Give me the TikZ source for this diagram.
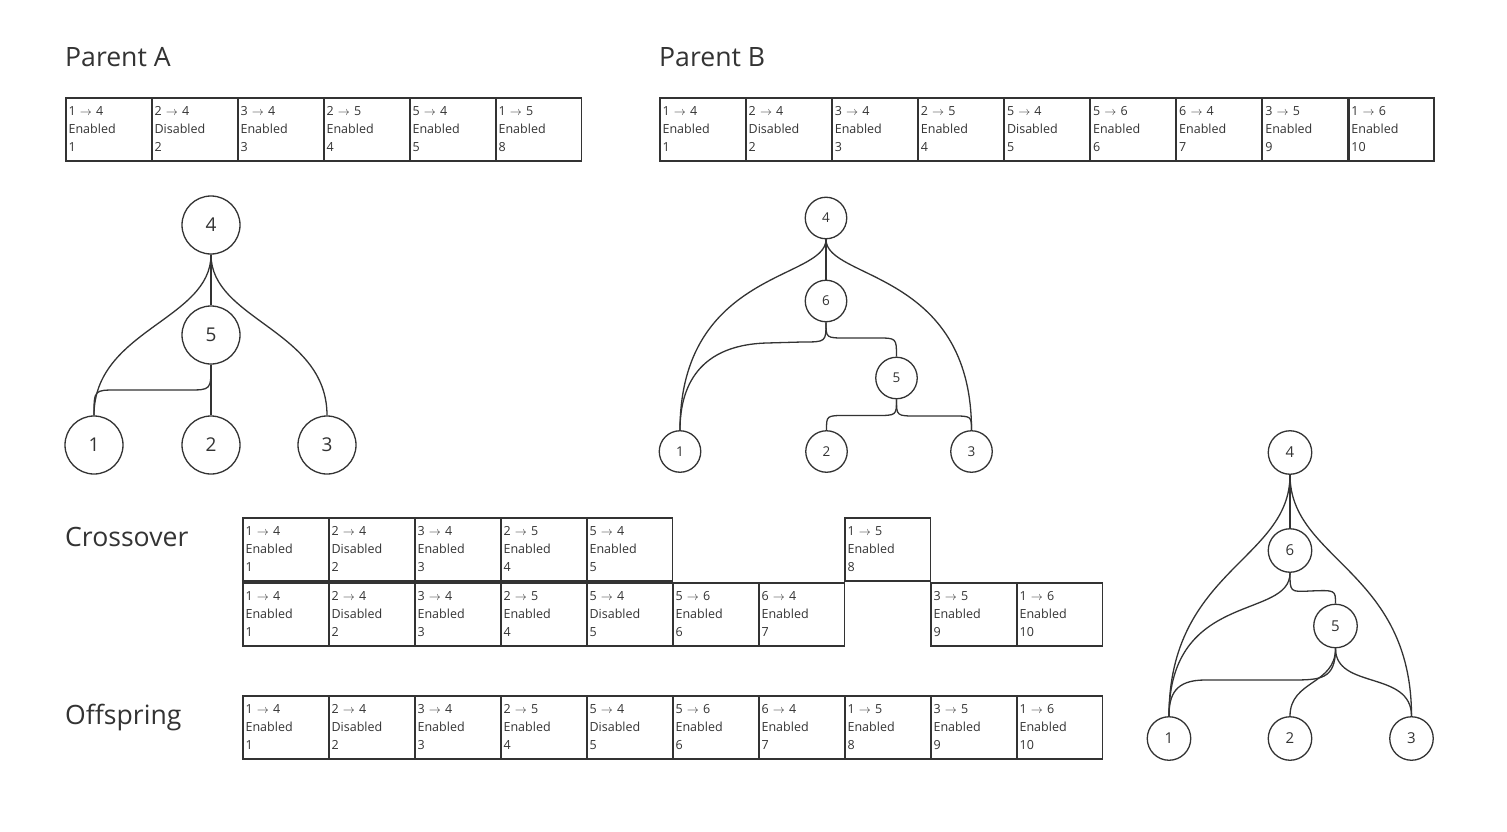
\documentclass[tikz,border=0pt]{standalone}
\usepackage{fontspec}
\setmainfont{Open Sans}
\definecolor{ink}{HTML}{333333}
\newcommand\garrow{\ensuremath{\rightarrow}}
\newcommand\gbox[7]{\node[gene] (#1) at (#2,#3) {#4 \garrow{} #5\\#6\\#7};}
\tikzset{
  gene/.style={draw=ink, line width=1.7pt, rectangle, anchor=north west,
    minimum width=85.5pt, minimum height=63pt, text width=80pt,
    inner xsep=2.5pt, inner ysep=0pt, align=left,
    font=\fontsize{12.5}{18}\selectfont, text=ink},
  title/.style={anchor=base west, inner sep=0pt, text=ink,
    font=\fontsize{26.6}{30}\selectfont},
  nA/.style={circle, draw=ink, line width=1.3pt, minimum size=58pt, inner sep=0pt,
    font=\fontsize{19}{19}\selectfont, text=ink},
  nB/.style={circle, draw=ink, line width=1.3pt, minimum size=41.5pt, inner sep=0pt,
    font=\fontsize{13.5}{13.5}\selectfont, text=ink},
  nC/.style={circle, draw=ink, line width=1.3pt, minimum size=43.5pt, inner sep=0pt,
    font=\fontsize{15}{15}\selectfont, text=ink},
  edge/.style={draw=ink, line width=1.3pt}
}
\begin{document}
\begin{tikzpicture}[x=1pt,y=-1pt]
\useasboundingbox[fill=white] (0,0) rectangle (1507,832);

% titles
\node[title] (tA) at (65,67) {Parent A};
\node[title] (tB) at (659,67) {Parent B};
\node[title] (tX) at (65,546) {Crossover};
\node[title] (tO) at (65,724) {Offspring};

% Parent A genes
\gbox{pa1}{65}{97}{1}{4}{Enabled}{1}
\gbox{pa2}{151}{97}{2}{4}{Disabled}{2}
\gbox{pa3}{237}{97}{3}{4}{Enabled}{3}
\gbox{pa4}{323}{97}{2}{5}{Enabled}{4}
\gbox{pa5}{409}{97}{5}{4}{Enabled}{5}
\gbox{pa6}{495}{97}{1}{5}{Enabled}{8}

% Parent B genes
\gbox{pb1}{659}{97}{1}{4}{Enabled}{1}
\gbox{pb2}{745.1}{97}{2}{4}{Disabled}{2}
\gbox{pb3}{831.2}{97}{3}{4}{Enabled}{3}
\gbox{pb4}{917.3}{97}{2}{5}{Enabled}{4}
\gbox{pb5}{1003.4}{97}{5}{4}{Disabled}{5}
\gbox{pb6}{1089.5}{97}{5}{6}{Enabled}{6}
\gbox{pb7}{1175.6}{97}{6}{4}{Enabled}{7}
\gbox{pb8}{1261.7}{97}{3}{5}{Enabled}{9}
\gbox{pb9}{1347.8}{97}{1}{6}{Enabled}{10}

% Crossover top row
\gbox{xa1}{242}{517}{1}{4}{Enabled}{1}
\gbox{xa2}{328}{517}{2}{4}{Disabled}{2}
\gbox{xa3}{414}{517}{3}{4}{Enabled}{3}
\gbox{xa4}{500}{517}{2}{5}{Enabled}{4}
\gbox{xa5}{586}{517}{5}{4}{Enabled}{5}
\gbox{xa6}{844}{517}{1}{5}{Enabled}{8}

% Crossover bottom row
\gbox{xb1}{242}{582}{1}{4}{Enabled}{1}
\gbox{xb2}{328}{582}{2}{4}{Disabled}{2}
\gbox{xb3}{414}{582}{3}{4}{Enabled}{3}
\gbox{xb4}{500}{582}{2}{5}{Enabled}{4}
\gbox{xb5}{586}{582}{5}{4}{Disabled}{5}
\gbox{xb6}{672}{582}{5}{6}{Enabled}{6}
\gbox{xb7}{758}{582}{6}{4}{Enabled}{7}
\gbox{xb8}{930}{582}{3}{5}{Enabled}{9}
\gbox{xb9}{1016}{582}{1}{6}{Enabled}{10}

% Offspring
\gbox{o1}{242}{695}{1}{4}{Enabled}{1}
\gbox{o2}{328}{695}{2}{4}{Disabled}{2}
\gbox{o3}{414}{695}{3}{4}{Enabled}{3}
\gbox{o4}{500}{695}{2}{5}{Enabled}{4}
\gbox{o5}{586}{695}{5}{4}{Disabled}{5}
\gbox{o6}{672}{695}{5}{6}{Enabled}{6}
\gbox{o7}{758}{695}{6}{4}{Enabled}{7}
\gbox{o8}{844}{695}{1}{5}{Enabled}{8}
\gbox{o9}{930}{695}{3}{5}{Enabled}{9}
\gbox{o10}{1016}{695}{1}{6}{Enabled}{10}

% Tree A
\node[nA] (a4) at (211,225) {4};
\node[nA] (a5) at (211,335) {5};
\node[nA] (a1) at (94,445) {1};
\node[nA] (a2) at (211,445) {2};
\node[nA] (a3) at (327,445) {3};
\draw[edge] (a4) -- (a5);
\draw[edge] (a5) -- (a2);
\draw[edge] (a4.south) .. controls (211,320) and (94,330) .. (a1.north);
\draw[edge] (a4.south) .. controls (211,320) and (327,330) .. (a3.north);
\draw[edge] (a5.south) .. controls (211,390) .. (188,390) -- (117,390) .. controls (94,390) .. (a1.north);

% Tree B
\node[nB] (b4) at (826,218) {4};
\node[nB] (b6) at (826,301) {6};
\node[nB] (b5) at (896.5,378) {5};
\node[nB] (b1) at (680,451.5) {1};
\node[nB] (b2) at (826.5,451.5) {2};
\node[nB] (b3) at (971.5,451.5) {3};
\draw[edge] (b4) -- (b6);
\draw[edge] (b4.south) .. controls (826,280) and (680,270) .. (b1.north);
\draw[edge] (b4.south) .. controls (826,280) and (971.5,270) .. (b3.north);
\draw[edge] (b6.south) .. controls (826,342) .. (802,342) -- (767,343) .. controls (692,345) and (680,395) .. (b1.north);
\draw[edge] (b6.south) .. controls (826,338) .. (846,338) -- (877,338) .. controls (896.5,338) .. (b5.north);
\draw[edge] (b5.south) .. controls (896.5,415.5) .. (876,415.5) -- (846,415.5) .. controls (826.5,415.5) .. (b2.north);
\draw[edge] (b5.south) .. controls (896.5,416) .. (917,416) -- (952,416) .. controls (971.5,416) .. (b3.north);

% Tree C (offspring)
\node[nC] (c4) at (1290,452.5) {4};
\node[nC] (c6) at (1290,550.5) {6};
\node[nC] (c5) at (1335.5,626) {5};
\node[nC] (c1) at (1169,738.5) {1};
\node[nC] (c2) at (1290,738.5) {2};
\node[nC] (c3) at (1411.5,738.5) {3};
\draw[edge] (c4) -- (c6);
\draw[edge] (c4.south) .. controls (1290,560) and (1169,570) .. (c1.north);
\draw[edge] (c4.south) .. controls (1290,560) and (1411.5,570) .. (c3.north);
\draw[edge] (c6.south) .. controls (1290,620) and (1169,590) .. (c1.north);
\draw[edge] (c6.south) .. controls (1290,592) .. (1310,591) .. controls (1335.5,590) .. (c5.north);
\draw[edge] (c5.south) .. controls (1335.5,680) and (1320,680) .. (1290,680) -- (1205,680) .. controls (1175,680) and (1169,695) .. (c1.north);
\draw[edge] (c5.south) .. controls (1335.5,685) and (1290,680) .. (c2.north);
\draw[edge] (c5.south) .. controls (1335.5,690) and (1411.5,670) .. (c3.north);
\end{tikzpicture}
\end{document}
